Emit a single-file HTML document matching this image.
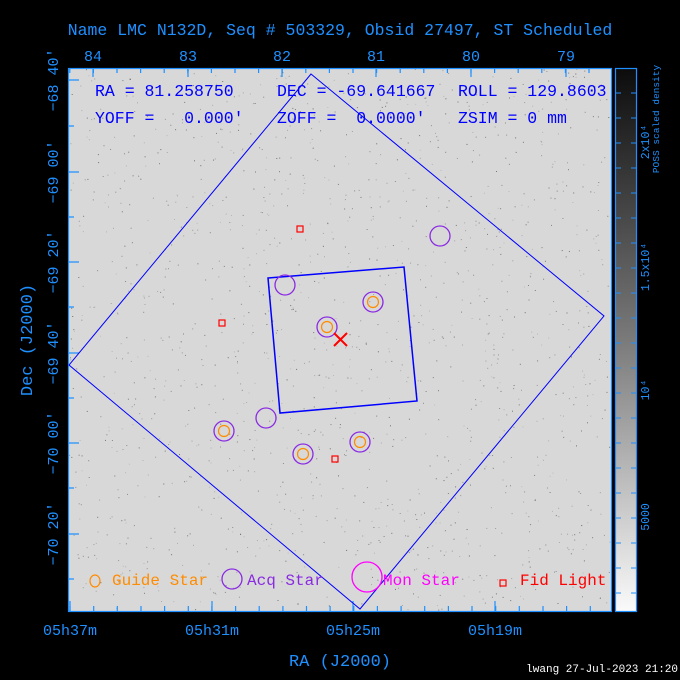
<!DOCTYPE html>
<html><head><meta charset="utf-8"><style>
html,body{margin:0;padding:0;background:#000;}
svg{display:block;}
text{font-family:"Liberation Mono","DejaVu Sans Mono",monospace;}
</style></head><body>
<svg width="680" height="680" viewBox="0 0 680 680" xmlns="http://www.w3.org/2000/svg">
<defs>
<linearGradient id="cb" x1="0" y1="0" x2="0" y2="1">
<stop offset="0" stop-color="#0c0c0c"/><stop offset="0.5" stop-color="#7a7a7a"/><stop offset="1" stop-color="#fafafa"/>
</linearGradient>
</defs>
<rect width="680" height="680" fill="#000"/>
<rect x="68.5" y="68.5" width="543" height="543" fill="#d8d8d8"/>
<g id="noise" fill="#555"></g>
<text x="340" y="35" fill="#1e90ff" font-size="16.5" text-anchor="middle">Name LMC N132D, Seq # 503329, Obsid 27497, ST Scheduled</text>
<g fill="#1e90ff" font-size="15" text-anchor="middle">
<text x="93" y="61">84</text><text x="188" y="61">83</text><text x="282" y="61">82</text><text x="376" y="61">81</text><text x="471" y="61">80</text><text x="566" y="61">79</text>
<text x="70" y="635">05h37m</text><text x="212" y="635">05h31m</text><text x="353" y="635">05h25m</text><text x="495" y="635">05h19m</text>
<text x="340" y="666" font-size="17">RA (J2000)</text>
</g>
<g fill="#1e90ff" font-size="15" text-anchor="middle">
<text transform="translate(58,80) rotate(-90)">−68 40′</text>
<text transform="translate(58,172) rotate(-90)">−69 00′</text>
<text transform="translate(58,262) rotate(-90)">−69 20′</text>
<text transform="translate(58,353) rotate(-90)">−69 40′</text>
<text transform="translate(58,443) rotate(-90)">−70 00′</text>
<text transform="translate(58,534) rotate(-90)">−70 20′</text>
<text transform="translate(32,340) rotate(-90)" font-size="17">Dec (J2000)</text>
</g>
<g stroke="#1e90ff" stroke-width="1.2" fill="none">
<rect x="68.5" y="68.5" width="543" height="543"/>
<path d="M93 69v8M188 69v8M282 69v8M376 69v8M471 69v8M566 69v8
M70 611v-10M212 611v-10M353 611v-10M495 611v-10
M69 80h10M69 172h10M69 262h10M69 353h10M69 443h10M69 534h10
M69 126h5M69 217h5M69 307h5M69 398h5M69 488h5M69 579h5"/>
<path id="tt" d=""/>
<rect x="615.5" y="68.5" width="21" height="543" fill="url(#cb)"/>
</g>
<g stroke="#1e90ff" stroke-width="1" id="cbt"></g>
<g fill="#1e90ff" font-size="11.5" text-anchor="middle">
<text transform="translate(649,142) rotate(-90)">2x10⁴</text>
<text transform="translate(649,267) rotate(-90)">1.5x10⁴</text>
<text transform="translate(649,390) rotate(-90)">10⁴</text>
<text transform="translate(649,517) rotate(-90)">5000</text>
<text transform="translate(659,119) rotate(-90)" font-size="9.5">POSS scaled density</text>
</g>
<g fill="#0000ff" font-size="16.5">
<text x="95" y="96">RA = 81.258750</text>
<text x="277" y="96">DEC = -69.641667</text>
<text x="458" y="96">ROLL = 129.8603</text>
<text x="95" y="123" xml:space="preserve">YOFF =   0.000'</text>
<text x="277" y="123" xml:space="preserve">ZOFF =  0.0000'</text>
<text x="458" y="123">ZSIM = 0 mm</text>
</g>
<g fill="none" stroke="#0000ff" stroke-width="1">
<polygon points="311,74 604,316 360,609 69,365"/>
<polygon points="268,278 404,267 417,401 280,413" stroke-width="1.5"/>
</g>
<g fill="none" stroke="#8a2be2" stroke-width="1.3">
<circle cx="440" cy="236" r="10"/><circle cx="285" cy="285" r="10"/><circle cx="373" cy="302" r="10"/><circle cx="327" cy="327" r="10"/><circle cx="266" cy="418" r="10"/><circle cx="224" cy="431" r="10"/><circle cx="303" cy="454" r="10"/><circle cx="360" cy="442" r="10"/>
<circle cx="232" cy="579" r="10"/>
</g>
<g fill="none" stroke="#ff8c00" stroke-width="1.2">
<circle cx="373" cy="302" r="5.5"/><circle cx="327" cy="327" r="5.5"/><circle cx="224" cy="431" r="5.5"/><circle cx="303" cy="454" r="5.5"/><circle cx="360" cy="442" r="5.5"/>
<ellipse cx="95" cy="581" rx="5" ry="6"/>
</g>
<g fill="none" stroke="#ff0000" stroke-width="1.2">
<rect x="297" y="226" width="6" height="6"/><rect x="219" y="320" width="6" height="6"/><rect x="332" y="456" width="6" height="6"/><rect x="500" y="580" width="6" height="6"/>
<path d="M334 333l13 13M347 333l-13 13" stroke-width="2"/>
</g>
<circle cx="367" cy="577" r="15" fill="none" stroke="#ff00ff" stroke-width="1.3"/>
<g font-size="16">
<text x="112" y="585" fill="#ff8c00">Guide Star</text>
<text x="247" y="585" fill="#8a2be2">Acq Star</text>
<text x="383" y="585" fill="#ff00ff">Mon Star</text>
<text x="520" y="585" fill="#ff0000">Fid Light</text>
</g>
<text x="678" y="672" fill="#fff" font-size="11" text-anchor="end" font-family="Liberation Sans, sans-serif">lwang 27-Jul-2023 21:20</text>
<script>
(function(){
var ns="http://www.w3.org/2000/svg";
var d="";
for(var x=93-94;x<612;x+=23.6){if(x>69)d+="M"+x.toFixed(1)+" 69v4";}
for(var x=70;x<612;x+=23.65){d+="M"+x.toFixed(1)+" 611v-5";}
document.getElementById("tt").setAttribute("d",d);
var c="";
for(var y=93;y<611;y+=25){c+="M616 "+y+"h5M636 "+y+"h-5";}
var p=document.createElementNS(ns,"path");p.setAttribute("d",c);document.getElementById("cbt").appendChild(p);
var g=document.getElementById("noise");var s=12345;
function r(){s=(s*16807)%2147483647;return s/2147483647;}
for(var i=0;i<1500;i++){var e=document.createElementNS(ns,"rect");
e.setAttribute("x",(69+r()*541).toFixed(1));e.setAttribute("y",(69+r()*541).toFixed(1));
e.setAttribute("width","1");e.setAttribute("height","1");e.setAttribute("fill-opacity",(0.2+r()*0.6).toFixed(2));g.appendChild(e);}
})();
</script>
</svg>
</body></html>
